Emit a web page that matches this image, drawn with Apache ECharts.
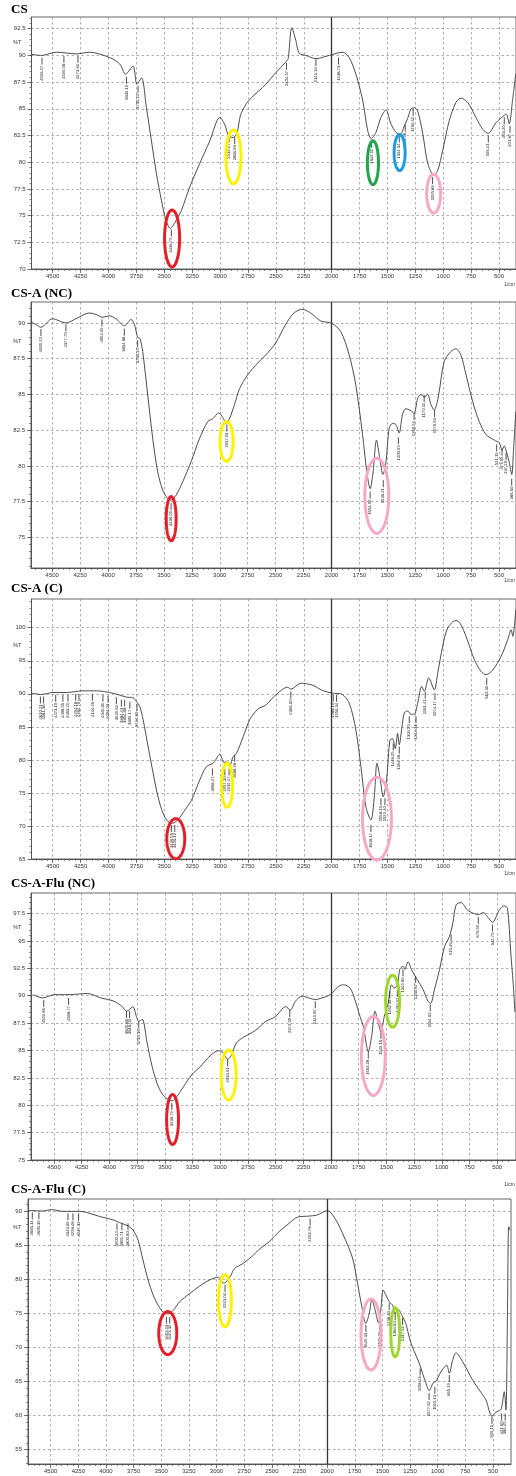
<!DOCTYPE html>
<html><head><meta charset="utf-8">
<script src="https://cdn.jsdelivr.net/npm/echarts@6/dist/echarts.min.js"></script>
<style>html,body{margin:0;padding:0;background:#fff}#c{width:516px;height:1476px}</style>
</head><body><div id="c"></div>
<script>
// ---------------- DATA ----------------
const panelTitles = ['CS', 'CS-A (NC)', 'CS-A (C)', 'CS-A-Flu (NC)', 'CS-A-Flu (C)'];
const xTickLabels = [4500, 4250, 4000, 3750, 3500, 3250, 3000, 2750, 2500, 2250, 2000, 1750, 1500, 1250, 1000, 750, 500];
const dividerWn = 2000;

const csYTicks = [70, 72.5, 75, 77.5, 80, 82.5, 85, 87.5, 90, 92.5];
const csaNcYTicks = [75, 77.5, 80, 82.5, 85, 87.5, 90];
const csaCYTicks = [65, 70, 75, 80, 85, 90, 95, 100];
const csaFluNcYTicks = [75, 77.5, 80, 82.5, 85, 87.5, 90, 92.5, 95, 97.5];
const csaFluCYTicks = [55, 60, 65, 70, 75, 80, 85, 90];

const csYRange = [70, 93.6];
const csaNcYRange = [72.85, 91.47];
const csaCYRange = [65, 104.35];
const csaFluNcYRange = [75, 99.38];
const csaFluCYRange = [52.9, 91.76];

const csXRange = [348, 4690];
const csaNcXRange = [348, 4690];
const csaCXRange = [348, 4690];
const csaFluNcXRange = [330, 4708];
const csaFluCXRange = [337, 4705];

// spectra: [wavenumber (1/cm), %T]
const csSpectrum = [[4688,90.1],[4600,90.0],[4467,90.3],[4287,90.15],[4168,90.3],[3989,89.8],[3899,89.2],[3847,88.25],[3780,89.0],[3745,87.3],[3704,87.9],[3660,85.1],[3615,82.0],[3570,78.9],[3525,76.4],[3496,75.0],[3446,73.8],[3391,74.6],[3346,75.5],[3271,77.7],[3182,79.9],[3092,82.0],[3002,84.2],[2957,83.5],[2925,82.5],[2883,82.3],[2847,82.8],[2817,84.4],[2763,85.5],[2704,86.2],[2650,86.7],[2590,87.3],[2500,88.4],[2410,89.4],[2390,89.7],[2357,92.6],[2321,91.4],[2291,90.2],[2231,90.0],[2141,89.7],[2022,90.0],[1902,90.3],[1843,89.8],[1783,88.25],[1722,85.8],[1678,83.0],[1645,82.2],[1603,82.8],[1558,84.2],[1513,84.9],[1469,83.6],[1424,82.8],[1385,82.6],[1349,83.4],[1319,84.1],[1289,85.0],[1255,85.1],[1229,84.8],[1184,82.7],[1139,79.9],[1085,78.8],[1050,79.2],[1005,81.1],[946,83.9],[886,85.6],[841,86.0],[781,85.6],[707,84.2],[647,83.1],[597,82.7],[527,83.7],[453,84.4],[434,84.5],[409,83.6],[379,85.8],[350,88.3]];

const csaNcSpectrum = [[4690,90.05],[4646,89.9],[4601,89.7],[4497,90.3],[4377,90.0],[4287,90.3],[4168,90.7],[4108,90.6],[4049,90.4],[3989,90.5],[3929,90.3],[3854,89.8],[3794,90.25],[3764,89.9],[3735,89.0],[3714,88.9],[3690,88.0],[3645,84.96],[3600,81.9],[3556,79.6],[3511,78.3],[3466,77.7],[3438,77.6],[3391,77.95],[3331,78.9],[3256,80.3],[3182,81.9],[3107,83.1],[3062,83.3],[3009,83.7],[2974,83.4],[2943,83.0],[2913,83.3],[2868,84.3],[2823,85.4],[2748,86.4],[2660,87.2],[2590,87.75],[2500,88.6],[2410,89.9],[2336,90.7],[2261,90.96],[2186,90.7],[2096,90.14],[1998,89.98],[1917,89.4],[1843,87.8],[1783,85.7],[1722,82.2],[1684,79.6],[1654,78.4],[1627,79.6],[1597,81.8],[1567,80.5],[1540,79.4],[1513,80.2],[1484,82.6],[1454,82.97],[1424,82.9],[1394,82.3],[1364,83.6],[1334,84.0],[1298,83.9],[1260,83.7],[1229,84.7],[1199,85.0],[1170,84.8],[1139,85.0],[1110,84.3],[1080,83.9],[1041,84.96],[991,87.3],[931,88.0],[886,88.2],[841,87.75],[796,86.4],[736,84.5],[677,83.1],[617,82.2],[542,81.8],[497,81.6],[473,81.1],[453,81.4],[431,80.9],[410,80.3],[386,79.4],[371,81.0],[350,83.8]];

const csaCSpectrum = [[4690,90.1],[4601,89.9],[4497,90.2],[4377,90.2],[4228,90.45],[4108,90.45],[3989,90.2],[3899,89.8],[3839,89.5],[3780,89.4],[3749,88.8],[3720,88.1],[3690,86.1],[3645,82.0],[3600,78.0],[3556,74.4],[3511,71.9],[3466,70.65],[3427,70.4],[3376,71.0],[3316,72.4],[3256,73.9],[3182,76.97],[3122,78.99],[3062,79.5],[3002,80.86],[2966,79.6],[2943,79.7],[2913,79.2],[2883,80.5],[2853,81.0],[2793,83.5],[2734,86.1],[2660,87.7],[2590,88.3],[2500,89.85],[2395,91.0],[2366,90.7],[2276,91.6],[2171,91.3],[2081,90.5],[1992,90.1],[1917,90.0],[1843,88.6],[1783,84.5],[1738,79.0],[1693,72.9],[1648,70.9],[1618,74.4],[1594,79.5],[1567,77.3],[1538,74.4],[1508,77.0],[1478,83.0],[1454,83.2],[1430,81.7],[1409,84.0],[1394,82.3],[1370,85.0],[1349,87.1],[1319,87.4],[1289,86.9],[1260,86.9],[1229,88.6],[1193,91.1],[1170,90.4],[1130,92.4],[1080,90.6],[1050,93.1],[1005,97.2],[960,99.95],[886,101.1],[850,100.7],[796,98.7],[722,95.2],[662,93.4],[617,92.9],[557,93.6],[482,95.65],[422,98.2],[392,99.7],[377,98.7],[350,102.7]];

const csaFluNcSpectrum = [[4690,90.1],[4601,89.8],[4497,90.1],[4377,90.1],[4198,90.2],[4078,89.8],[3959,89.5],[3884,89.0],[3845,88.6],[3824,88.7],[3789,89.0],[3756,88.1],[3735,87.65],[3704,87.85],[3660,85.7],[3615,83.55],[3570,82.0],[3525,81.05],[3480,80.6],[3436,80.4],[3391,80.8],[3331,81.7],[3256,82.8],[3182,83.5],[3092,84.5],[3017,84.98],[2974,84.8],[2933,84.2],[2898,84.6],[2853,85.7],[2793,86.2],[2719,86.6],[2660,87.0],[2590,87.65],[2500,88.1],[2410,89.0],[2366,88.7],[2321,89.5],[2261,89.96],[2201,89.8],[2141,89.65],[2081,89.8],[2007,90.1],[1932,90.85],[1887,91.0],[1828,90.7],[1783,89.6],[1738,88.1],[1708,87.2],[1663,84.9],[1633,86.3],[1603,88.6],[1573,87.5],[1549,86.7],[1519,88.1],[1484,89.3],[1454,91.0],[1430,90.7],[1400,91.0],[1379,92.4],[1349,92.7],[1334,92.4],[1304,93.1],[1274,92.4],[1229,91.6],[1170,90.6],[1125,89.5],[1101,89.3],[1065,90.6],[1020,92.4],[975,94.5],[931,95.4],[901,96.6],[870,98.3],[826,98.5],[766,97.8],[707,97.5],[671,97.4],[623,97.6],[587,97.2],[542,96.7],[482,97.8],[437,98.2],[407,98.0],[377,93.9],[356,91.2],[340,88.5]];

const csaFluCSpectrum = [[4705,90.1],[4569,90.0],[4494,90.2],[4390,89.95],[4238,89.95],[4178,89.8],[4057,89.2],[3936,88.7],[3876,88.3],[3800,87.8],[3755,87.2],[3710,85.75],[3665,82.8],[3619,79.9],[3574,77.7],[3529,76.2],[3484,75.2],[3438,74.9],[3393,75.4],[3333,76.7],[3242,77.9],[3152,79.0],[3061,79.9],[2986,80.3],[2934,79.4],[2880,80.3],[2835,81.6],[2760,82.3],[2669,83.5],[2620,84.3],[2524,85.5],[2434,86.97],[2343,88.2],[2268,89.1],[2167,89.25],[2092,89.4],[1998,90.05],[1921,88.7],[1846,86.2],[1770,83.1],[1725,79.4],[1686,75.97],[1650,73.5],[1620,74.9],[1595,77.0],[1566,75.5],[1535,73.6],[1515,75.5],[1493,78.4],[1469,77.7],[1438,76.7],[1408,76.2],[1384,75.0],[1354,75.5],[1318,74.5],[1288,73.5],[1251,71.1],[1212,69.4],[1167,67.7],[1137,66.2],[1107,64.8],[1077,63.65],[1041,64.8],[1017,65.0],[971,66.4],[919,67.4],[895,66.2],[865,68.1],[835,69.2],[774,67.9],[684,65.2],[624,63.75],[564,62.3],[509,59.9],[473,60.5],[428,60.9],[398,63.5],[383,60.8],[368,76.5],[358,87.7],[346,87.2]];

// peak labels: [labelled wavenumber, %T at top of leader]
const csPeaks = [[4596.17,89.8],[4399.58,89.96],[4273.61,89.96],[3839.15,88.0],[3735.22,87.16],[3436.79,73.7],[2919.47,82.5],[2868.98,82.34],[2404.57,89.3],[2141.34,89.65],[1938.73,89.8],[1642.11,82.0],[1394.34,82.5],[1340.58,83.5],[1269.62,85.0],[1095.89,78.6],[596.41,82.5],[453.20,84.2],[401.87,83.4]];
const csaNcPeaks = [[4601.21,89.58],[4377.70,89.9],[4054.59,90.25],[3854.88,89.6],[3735.24,88.8],[3436.01,77.4],[2937.04,82.9],[1654.09,78.2],[1536.21,79.0],[1400.99,82.0],[1260.51,83.7],[1170.11,84.96],[1076.53,83.9],[521.19,81.5],[473.05,81.2],[437.20,80.9],[386.60,79.1]];
const csaCPeaks = [[4610.21,89.6],[4581.36,89.6],[4473.10,89.85],[4408.55,89.85],[4363.29,89.85],[4294.18,90.0],[4264.70,90.0],[4144.26,90.0],[4049.81,89.85],[4004.03,89.7],[3929.62,89.5],[3884.41,89.1],[3854.88,89.1],[3809.17,88.8],[3744.30,88.45],[3436.55,70.15],[3406.12,70.15],[3068.47,78.7],[2957.30,78.7],[2919.47,78.7],[2868.98,80.76],[2366.00,90.35],[1986.10,89.85],[1956.34,89.85],[1648.17,70.15],[1558.13,74.2],[1522.40,74.2],[1448.25,82.5],[1394.18,82.0],[1304.55,86.6],[1244.31,86.6],[1161.41,90.35],[1074.17,90.1],[610.35,92.4]];
const csaFluNcPeaks = [[4592.86,89.6],[4368.77,89.8],[3845.88,88.6],[3818.03,88.6],[3735.16,87.65],[3436.79,80.2],[2933.01,84.2],[2372.00,88.7],[2141.87,89.5],[1663.18,84.9],[1549.16,86.7],[1469.34,90.4],[1400.92,90.55],[1349.89,92.4],[1235.87,91.8],[1104.02,89.2],[915.46,95.6],[670.59,97.2],[542.75,96.5]];
const csaFluCPeaks = [[4666.14,89.8],[4606.39,89.8],[4343.69,89.66],[4298.48,89.66],[4247.12,89.66],[3900.24,88.2],[3855.71,88.2],[3800.80,88.2],[3453.13,74.5],[3423.32,74.5],[2923.04,79.15],[2153.78,88.9],[1649.33,73.3],[1523.28,73.5],[1438.40,76.5],[1384.64,75.0],[1317.52,74.3],[1158.43,66.9],[1077.62,63.3],[1025.13,64.2],[895.19,65.95],[509.15,59.8],[421.60,60.3],[389.45,60.3]];

// highlight rings: [centre wavenumber, centre %T, half-width (1/cm), half-height (%T), colour key]
const csRings = [[3430,72.86,81,2.8,'red'],[2880,80.5,81,2.66,'yellow'],[1630,79.95,63,2.19,'green'],[1391,80.9,63,1.82,'blue'],[1086,77.06,76,1.96,'pink']];
const csaNcRings = [[3435,76.3,58,1.65,'red'],[2939,81.7,72,1.5,'yellow'],[1594,77.9,121,2.73,'pink']];
const csaCRings = [[3397,68.07,94,3.26,'red'],[2937,76.16,63,3.56,'yellow'],[1594,71.1,143,6.5,'pink']];
const csaFluNcRings = [[3430,78.7,67,2.42,'red'],[2924,82.76,81,2.42,'yellow'],[1618,84.5,121,3.74,'pink'],[1444,89.5,76,2.51,'lime']];
const csaFluCRings = [[3441,72.1,95,3.37,'red'],[2924,76.85,72,4.03,'yellow'],[1603,71.9,104,5.43,'pink'],[1384,72.2,54,3.81,'lime']];

// ---------------- STYLE / LAYOUT ----------------
const ringColors = {red:'#e3202a', yellow:'#fff200', green:'#1fa54a', blue:'#1c9be2', pink:'#f6a9c6', lime:'#9fd62c'};
const layout = [
  {left:31.5, top:17,   width:484.5, height:252, titleTop:3,     pctTop:39,   cmTop:282},
  {left:31,   top:302,  width:485,   height:266, titleTop:287,   pctTop:338,  cmTop:578},
  {left:31.5, top:599,  width:484.5, height:260, titleTop:582,   pctTop:642,  cmTop:871},
  {left:31,   top:893,  width:485,   height:267, titleTop:877.5, pctTop:924,  cmTop:1182},
  {left:28,   top:1199, width:483,   height:265, titleTop:1183,  pctTop:1224, cmTop:null}
];
const panels = [
  {spectrum:csSpectrum, peaks:csPeaks, rings:csRings, yTicks:csYTicks, yRange:csYRange, xRange:csXRange},
  {spectrum:csaNcSpectrum, peaks:csaNcPeaks, rings:csaNcRings, yTicks:csaNcYTicks, yRange:csaNcYRange, xRange:csaNcXRange},
  {spectrum:csaCSpectrum, peaks:csaCPeaks, rings:csaCRings, yTicks:csaCYTicks, yRange:csaCYRange, xRange:csaCXRange},
  {spectrum:csaFluNcSpectrum, peaks:csaFluNcPeaks, rings:csaFluNcRings, yTicks:csaFluNcYTicks, yRange:csaFluNcYRange, xRange:csaFluNcXRange},
  {spectrum:csaFluCSpectrum, peaks:csaFluCPeaks, rings:csaFluCRings, yTicks:csaFluCYTicks, yRange:csaFluCYRange, xRange:csaFluCXRange}
];
const FONT = 'Liberation Sans, Arial, sans-serif';
const axisColor = '#555';
const gridLine = {show:true, lineStyle:{color:'#9a9a9a', width:0.8, type:[2.5,2.5]}};
const plainNum = v => String(v);

const xMinor = [];
for (let v = 400; v <= 4700; v += 50) xMinor.push(v);

const option = {animation:false, backgroundColor:'#fff', title:[], grid:[], xAxis:[], yAxis:[], series:[], graphic:[]};

panels.forEach((p, i) => {
  const L = layout[i];
  option.title.push({text:panelTitles[i], left:11, top:L.titleTop, padding:0,
    textStyle:{fontFamily:'Liberation Serif, Times New Roman, serif', fontWeight:'bold', fontSize:13, color:'#000'}});
  option.grid.push({left:L.left, top:L.top, width:L.width, height:L.height, show:true,
    borderColor:'#666', borderWidth:1, backgroundColor:'transparent'});

  const yStep = (p.yTicks[1] - p.yTicks[0]) / 5;
  const yMinor = [];
  for (let v = Math.ceil(p.yRange[0] / yStep) * yStep; v <= p.yRange[1] + 1e-9; v += yStep) yMinor.push(+v.toFixed(3));

  option.xAxis.push({gridIndex:i, type:'value', inverse:true, min:p.xRange[0], max:p.xRange[1], position:'bottom',
    axisLine:{show:true, onZero:false, lineStyle:{color:axisColor, width:1}},
    axisTick:{show:true, length:4, customValues:xTickLabels, lineStyle:{color:axisColor, width:0.8}},
    axisLabel:{show:true, customValues:xTickLabels, formatter:plainNum, fontSize:6, color:'#333', margin:4, fontFamily:FONT},
    splitLine:gridLine});
  option.xAxis.push({gridIndex:i, type:'value', inverse:true, min:p.xRange[0], max:p.xRange[1], position:'bottom',
    axisLine:{show:false, onZero:false}, axisTick:{show:true, length:2, customValues:xMinor, lineStyle:{color:axisColor, width:0.7}},
    axisLabel:{show:false}, splitLine:{show:false}});
  option.yAxis.push({gridIndex:i, type:'value', min:p.yRange[0], max:p.yRange[1], position:'left',
    axisLine:{show:true, onZero:false, lineStyle:{color:axisColor, width:1}},
    axisTick:{show:true, length:4, customValues:p.yTicks, lineStyle:{color:axisColor, width:0.8}},
    axisLabel:{show:true, customValues:p.yTicks, formatter:plainNum, fontSize:6, color:'#333', margin:6, fontFamily:FONT},
    splitLine:gridLine});
  option.yAxis.push({gridIndex:i, type:'value', min:p.yRange[0], max:p.yRange[1], position:'left',
    axisLine:{show:false, onZero:false}, axisTick:{show:true, length:2, customValues:yMinor, lineStyle:{color:axisColor, width:0.7}},
    axisLabel:{show:false}, splitLine:{show:false}});

  option.series.push({type:'line', xAxisIndex:2*i, yAxisIndex:2*i, data:p.spectrum, showSymbol:false, smooth:0.3,
    lineStyle:{color:'#3a3a3a', width:0.9}, z:3,
    markLine:{silent:true, symbol:['none','none'], label:{show:false},
      lineStyle:{color:'#333', width:1.3, type:'solid'}, data:[{xAxis:dividerWn}]}});

  const rings = p.rings;
  option.series.push({type:'custom', xAxisIndex:2*i, yAxisIndex:2*i, z:6,
    data:rings.map(r => [r[0], r[1], r[2], r[3]]),
    renderItem:(params, api) => {
      const cx = api.value(0), cy = api.value(1), hw = api.value(2), hh = api.value(3);
      const c = api.coord([cx, cy]);
      const e = api.coord([cx - hw, cy + hh]);
      const rx = Math.abs(e[0] - c[0]) - 1.5, ry = Math.abs(e[1] - c[1]) - 1.5;
      const pts = [];
      for (let k = 0; k < 60; k++) { const a = k / 60 * Math.PI * 2; pts.push([c[0] + rx * Math.cos(a), c[1] + ry * Math.sin(a)]); }
      return {type:'polygon', shape:{points:pts}, style:{fill:'none', stroke:ringColors[rings[params.dataIndex][4]], lineWidth:3}};
    }});

  option.series.push({type:'custom', xAxisIndex:2*i, yAxisIndex:2*i, z:4, data:p.peaks,
    renderItem:(params, api) => {
      const wn = api.value(0), t = api.value(1);
      const c = api.coord([wn, t]);
      return {type:'group', children:[
        {type:'line', shape:{x1:c[0], y1:c[1], x2:c[0], y2:c[1] + 7}, style:{stroke:'#222', lineWidth:0.8}},
        {type:'text', x:c[0], y:c[1] + 8, rotation:Math.PI / 2,
          style:{text:wn.toFixed(2), fontSize:4.2, fill:'#222', align:'right', verticalAlign:'middle', fontFamily:FONT}}
      ]};
    }});

  option.graphic.push({type:'text', left:13, top:L.pctTop, style:{text:'%T', fontSize:5.5, fill:'#333', fontFamily:FONT}});
  if (L.cmTop !== null) option.graphic.push({type:'text', right:1, top:L.cmTop, style:{text:'1/cm', fontSize:5, fill:'#333', fontFamily:FONT}});
});

const chart = echarts.init(document.getElementById('c'), null, {renderer:'canvas', width:516, height:1476});
chart.setOption(option);
</script>
</body></html>
